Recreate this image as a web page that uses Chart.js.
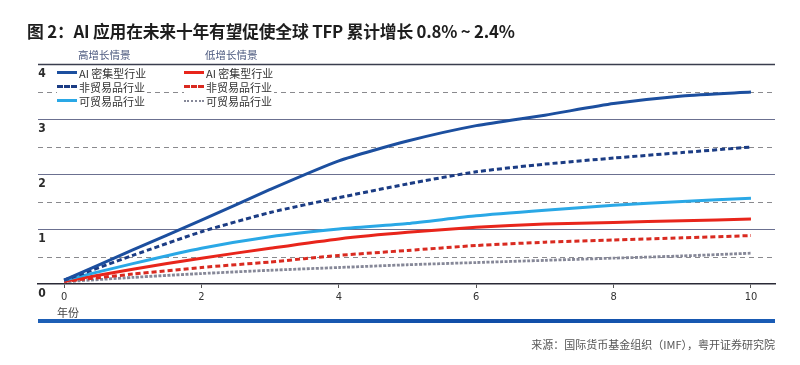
<!DOCTYPE html>
<html><head><meta charset="utf-8">
<script src="https://cdn.jsdelivr.net/npm/chart.js@4.4.1/dist/chart.umd.min.js"></script>
<style>
html,body{margin:0;padding:0;background:#fff;}
#wrap{position:relative;width:800px;height:365px;overflow:hidden;font-family:"Noto Sans CJK SC","Noto Sans",sans-serif;}
#cv{position:absolute;left:0;top:0;}
.t{position:absolute;white-space:nowrap;}
#title{left:27px;top:19px;font-size:16.8px;font-weight:bold;color:#1e1e1e;letter-spacing:-0.2px;}
.hd{font-size:10.5px;color:#4b587e;top:47px;}
.lg{position:absolute;height:13px;background:#fff;display:flex;align-items:center;font-size:11px;color:#333;padding-right:2px;}
.sw{display:inline-block;width:20px;height:0;margin-right:2px;}
#yr{left:57px;top:304px;font-size:11px;color:#444;}
#bar{position:absolute;left:38px;top:319px;width:737px;height:4px;background:linear-gradient(90deg,#1d5fb6,#1858b0 40%,#0f4ca6 60%,#1a5cb5);}
#src{right:25px;top:336px;font-size:11px;color:#555;}
</style></head>
<body><div id="wrap">
<canvas id="cv" width="800" height="365"></canvas>
<div class="t" id="title">图 2：AI 应用在未来十年有望促使全球 TFP 累计增长 0.8% ~ 2.4%</div>
<div class="t hd" style="left:78px;">高增长情景</div>
<div class="t hd" style="left:205px;">低增长情景</div>
<div id="legend"></div>
<div class="t" id="yr">年份</div>
<div id="bar"></div>
<div class="t" id="src">来源：国际货币基金组织（IMF），粤开证券研究院</div>
</div>
<script>
const years = [0,1,2,3,4,5,6,7,8,9,10];
const xTickLabels = [0,2,4,6,8,10];
const yTickLabels = [0,1,2,3,4];
const seriesNames = ["AI 密集型行业","非贸易品行业","可贸易品行业","AI 密集型行业","非贸易品行业","可贸易品行业"];
const highAI        = [0.07,0.62,1.16,1.72,2.24,2.60,2.88,3.07,3.28,3.42,3.49];
const highNonTrade  = [0.07,0.52,0.95,1.30,1.57,1.82,2.04,2.18,2.29,2.39,2.49];
const highTrade     = [0.07,0.37,0.65,0.86,1.00,1.10,1.24,1.34,1.43,1.50,1.56];
const lowAI         = [0.05,0.27,0.47,0.65,0.82,0.94,1.03,1.09,1.12,1.15,1.18];
const lowNonTrade   = [0.05,0.18,0.30,0.40,0.52,0.61,0.70,0.76,0.80,0.84,0.88];
const lowTrade      = [0.04,0.12,0.19,0.25,0.30,0.35,0.39,0.43,0.47,0.51,0.56];

const styles = [
  {color:"#1c4f9f", dash:[], w:3},
  {color:"#1b3c84", dash:[5,3], w:3},
  {color:"#2aa8e6", dash:[], w:3},
  {color:"#e8251b", dash:[], w:3},
  {color:"#d92a20", dash:[5,3], w:3},
  {color:"#868898", dash:[3,1.5], w:2.8}
];
const values = [highAI,highNonTrade,highTrade,lowAI,lowNonTrade,lowTrade];

// legend (HTML)
const lg = document.getElementById('legend');
const pos = [[57,66],[57,80],[57,94],[184,66],[184,80],[184,94]];
seriesNames.forEach((n,i)=>{
  const d = document.createElement('div');
  d.className='lg';
  d.style.left=pos[i][0]+'px'; d.style.top=pos[i][1]+'px';
  const s = document.createElement('span'); s.className='sw';
  const st = styles[i];
  let bs = st.dash.length ? (i===5?'dotted':'dashed') : 'solid';
  s.style.borderTop = st.w+'px '+bs+' '+st.color;
  d.appendChild(s);
  d.appendChild(document.createTextNode(n));
  lg.appendChild(d);
});

const gridPlugin = {
  id:'grid',
  beforeDatasetsDraw(chart){
    const ctx = chart.ctx, y = chart.scales.y, a = chart.chartArea;
    ctx.save();
    for(let v=0.5; v<=4.001; v+=0.5){
      const py = Math.round(y.getPixelForValue(v))+0.5;
      ctx.beginPath();
      if(Math.abs(v-Math.round(v))<1e-6){
        ctx.setLineDash([]);
        ctx.strokeStyle = v===4 ? '#3a3d4e' : '#6b7090';
        ctx.lineWidth = v===4 ? 1.4 : 1.2;
      } else {
        ctx.setLineDash([5,4]);
        ctx.strokeStyle = '#8a8a8e';
        ctx.lineWidth = 1;
      }
      ctx.moveTo(a.left,py); ctx.lineTo(a.right,py); ctx.stroke();
    }
    ctx.setLineDash([]);
    ctx.fillStyle='#2b2b2b';
    ctx.font='bold 12px "Liberation Sans Narrow","DejaVu Sans Condensed",sans-serif';
    ctx.textAlign='center'; ctx.textBaseline='middle';
    yTickLabels.forEach(v=>{
      const py = y.getPixelForValue(v);
      ctx.fillText(String(v), 42, py+10);
    });
    ctx.restore();
  }
};

new Chart(document.getElementById('cv'),{
  type:'line',
  data:{
    labels:years,
    datasets: values.map((vals,i)=>({
      label:seriesNames[i],
      data: vals.map((v,j)=>({x:years[j],y:v})),
      borderColor:styles[i].color,
      borderDash:styles[i].dash,
      borderWidth:styles[i].w,
      pointRadius:0,
      fill:false,
      tension:0.2,
      borderCapStyle:'butt',
      order: i===0?0:i+1
    }))
  },
  options:{
    responsive:false,
    animation:false,
    layout:{padding:{left:38,right:25,top:64,bottom:61}},
    plugins:{legend:{display:false},tooltip:{enabled:false}},
    scales:{
      x:{
        type:'linear', min:-0.38, max:10.35,
        afterBuildTicks(s){ s.ticks = xTickLabels.map(v=>({value:v})); },
        afterFit(s){ s.height = 20; },
        grid:{drawOnChartArea:false, drawTicks:true, tickLength:4, tickColor:'#555', tickWidth:1},
        border:{display:true, color:'#2a2a36', width:1.6},
        ticks:{color:'#333', padding:3, font:{size:11, family:'"Liberation Sans Narrow","DejaVu Sans Condensed",sans-serif'}, maxRotation:0}
      },
      y:{
        display:false, min:0, max:4
      }
    }
  },
  plugins:[gridPlugin]
});
</script>
</body></html>
